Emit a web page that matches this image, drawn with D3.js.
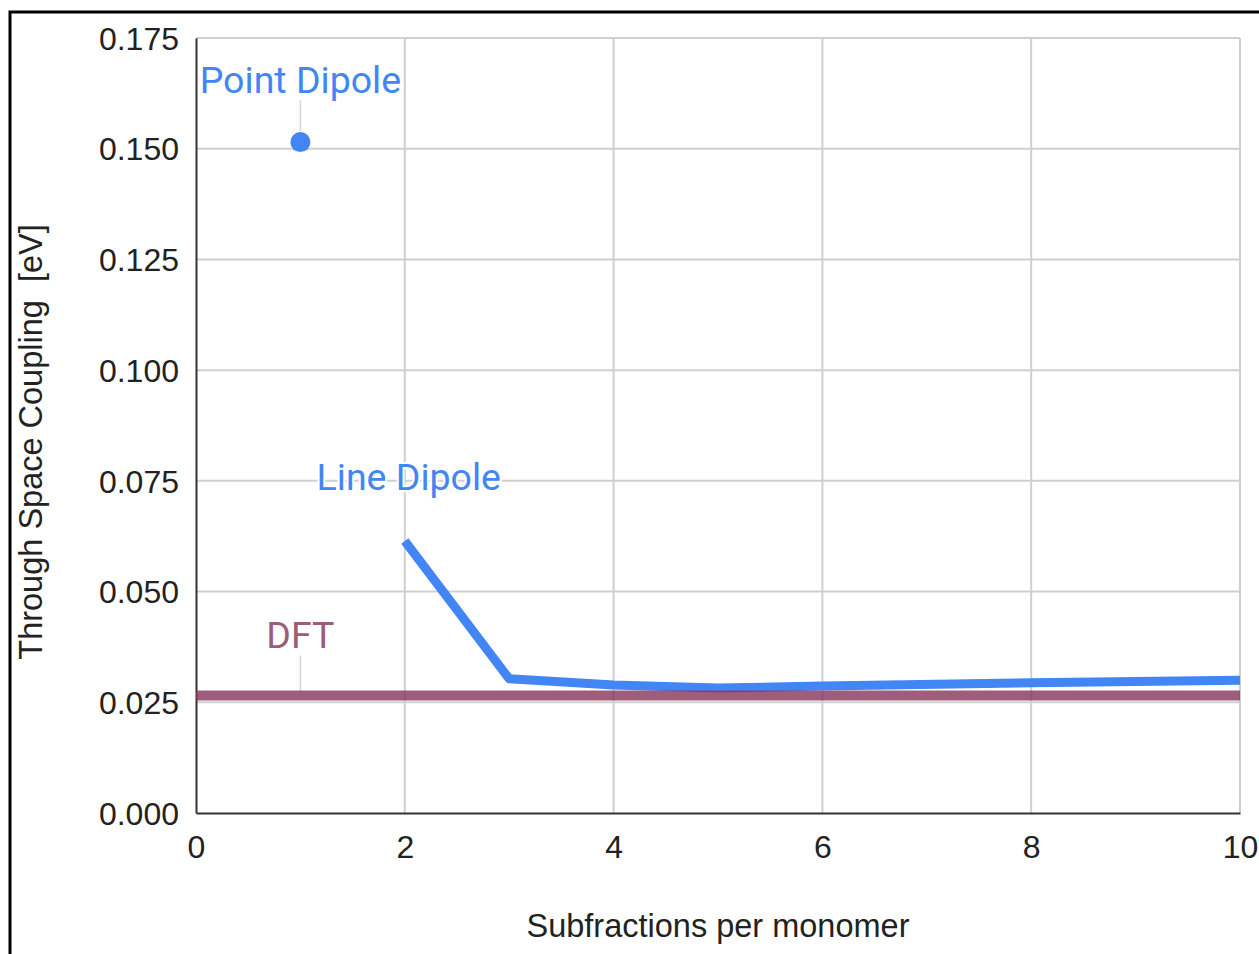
<!DOCTYPE html>
<meta charset="utf-8">
<title>Through Space Coupling</title>
<style>
    body { margin: 0; background: #fff; }
    .tick text { font-family: "Liberation Sans", Arial, sans-serif; font-size: 32px; fill: #222; }
    .title { font-family: "Liberation Sans", Arial, sans-serif; font-size: 32.5px; fill: #222; }
    .note { font-family: Roboto, sans-serif; font-size: 37.5px; text-anchor: middle;
            paint-order: stroke; stroke: #fff; stroke-width: 4px; }
</style>
<svg width="1259" height="954"></svg>
<script src="https://d3js.org/d3.v7.min.js"></script>
<script>

// data
var lineX = [2, 3, 4, 5, 6, 8, 10];
var lineY = [0.0614, 0.0303, 0.0289, 0.0282, 0.0287, 0.0294, 0.0300];
var pointX = [1];
var pointY = [0.1515];
var dftX = [0, 10];
var dftY = [0.02655, 0.02655];
var xTicks = [0, 2, 4, 6, 8, 10];
var yTicks = [0, 0.025, 0.05, 0.075, 0.1, 0.125, 0.15, 0.175];
// annotations: label, x, y of the mark, label baseline offset above it
var notes = [
    {label: "Point Dipole", x: 1, y: 0.1515, color: "#4285f4", dx: 0, dy: 49, gap: 11},
    {label: "Line Dipole", x: 2, y: 0.0614, color: "#4285f4", dx: 4, dy: 51, gap: 4},
    {label: "DFT", x: 1, y: 0.02655, color: "#9c5c7b", dx: 0, dy: 47, gap: 2}
];

var svg = d3.select("svg"),
    margin = {left: 196, top: 38, right: 19, bottom: 141},
    width = 1259 - margin.left - margin.right,
    height = 954 - margin.top - margin.bottom;

// outer frame
svg.append("rect")
    .attr("x", 10).attr("y", 12)
    .attr("width", 1300).attr("height", 1000)
    .attr("fill", "none").attr("stroke", "#000").attr("stroke-width", 3);

var g = svg.append("g").attr("transform", "translate(" + margin.left + "," + margin.top + ")");

var x = d3.scaleLinear().domain([0, 10]).range([0, width]);
var y = d3.scaleLinear().domain([0, 0.175]).range([height, 0]);

// grid
g.append("g")
    .selectAll("line").data(xTicks.slice(1)).enter().append("line")
    .attr("x1", x).attr("x2", x).attr("y1", 0).attr("y2", height)
    .attr("stroke", "#cfcfcf").attr("stroke-width", 2);
g.append("g")
    .selectAll("line").data(yTicks.slice(1)).enter().append("line")
    .attr("x1", 0).attr("x2", width).attr("y1", y).attr("y2", y)
    .attr("stroke", "#cfcfcf").attr("stroke-width", 2);

// axes
var xAxis = g.append("g")
    .attr("transform", "translate(0," + height + ")")
    .call(d3.axisBottom(x).tickValues(xTicks).tickSize(0).tickPadding(22).tickFormat(d3.format("d")));
xAxis.select(".domain").attr("stroke", "#333").attr("stroke-width", 2);

var yAxis = g.append("g")
    .call(d3.axisLeft(y).tickValues(yTicks).tickSize(0).tickPadding(17).tickFormat(d3.format(".3f")));
yAxis.select(".domain").attr("stroke", "#333").attr("stroke-width", 2);
yAxis.selectAll(".tick text").attr("dy", "0.35em");

// annotation stems
g.append("g")
    .selectAll("line").data(notes).enter().append("line")
    .attr("x1", function(d) { return x(d.x); })
    .attr("x2", function(d) { return x(d.x); })
    .attr("y1", function(d) { return y(d.y) - d.dy + 7; })
    .attr("y2", function(d) { return y(d.y) - d.gap; })
    .attr("stroke", "#d6d6d6").attr("stroke-width", 1.5);

// line dipole
var line = d3.line()
    .x(function(d) { return x(d[0]); })
    .y(function(d) { return y(d[1]); });

g.append("path")
    .datum(d3.zip(lineX, lineY))
    .attr("d", line)
    .attr("fill", "none")
    .attr("stroke", "#4285f4")
    .attr("stroke-width", 9)
    .attr("stroke-linejoin", "round");

// dft reference
g.append("path")
    .datum(d3.zip(dftX, dftY))
    .attr("d", line)
    .attr("fill", "none")
    .attr("stroke", "#86345a")
    .attr("stroke-opacity", 0.8)
    .attr("stroke-width", 10);

// point dipole
g.selectAll(".pt")
    .data(d3.zip(pointX, pointY)).enter().append("circle")
    .attr("class", "pt")
    .attr("cx", function(d) { return x(d[0]); })
    .attr("cy", function(d) { return y(d[1]); })
    .attr("r", 10)
    .attr("fill", "#4285f4");

// annotation labels
g.append("g")
    .selectAll("text").data(notes).enter().append("text")
    .attr("class", "note")
    .attr("x", function(d) { return x(d.x) + d.dx; })
    .attr("y", function(d) { return y(d.y) - d.dy; })
    .attr("fill", function(d) { return d.color; })
    .text(function(d) { return d.label; });

// titles
svg.append("text")
    .attr("class", "title")
    .attr("x", margin.left + width / 2)
    .attr("y", 937)
    .attr("text-anchor", "middle")
    .text("Subfractions per monomer");

svg.append("text")
    .attr("class", "title")
    .attr("transform", "translate(42,442) rotate(-90)")
    .attr("text-anchor", "middle")
    .text("Through Space Coupling\u00a0\u00a0[eV]");

</script>
